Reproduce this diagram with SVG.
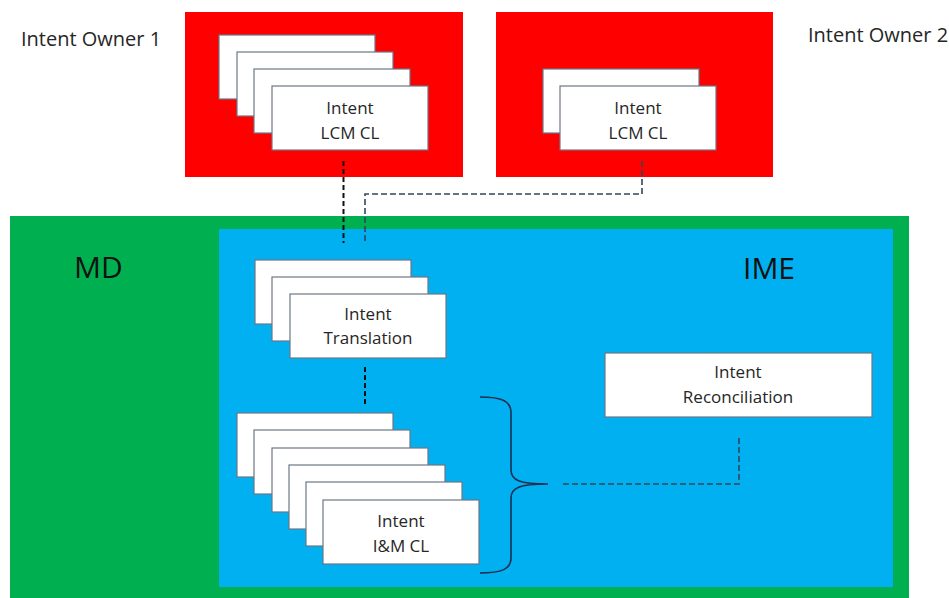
<svg xmlns="http://www.w3.org/2000/svg" width="949" height="598" viewBox="0 0 949 598">
<style>
.card{fill:#ffffff;stroke:#6b7785;stroke-width:1.2}
.t{font-family:"Open Sans","Liberation Sans",sans-serif;font-size:17px;fill:#262626;text-anchor:middle}
.lbl{font-family:"Open Sans","Liberation Sans",sans-serif;font-size:20px;fill:#262626}
.big{font-family:"Open Sans","Liberation Sans",sans-serif;font-size:30px;fill:#111111}
.dk{fill:none;stroke:#111111;stroke-width:2;stroke-dasharray:5 3}
.dg{fill:none;stroke:#34465a;stroke-width:1.6;stroke-dasharray:6 3}
</style>
<rect width="949" height="598" fill="#ffffff"/>
<g id="md">
<rect x="10" y="216" width="899" height="390" fill="#00b050"/>
<text class="big" x="74" y="278">MD</text>
</g>
<g id="ime">
<rect x="219" y="229" width="674" height="358" fill="#00b0f0"/>
<text class="big" x="743" y="279">IME</text>
</g>
<g id="owner1">
<text class="lbl" x="21" y="46">Intent Owner 1</text>
<rect x="185" y="12" width="278" height="165" fill="#ff0000"/>
<rect class="card" x="219" y="35" width="156" height="64"/>
<rect class="card" x="237" y="52" width="156" height="64"/>
<rect class="card" x="254" y="69" width="156" height="64"/>
<rect class="card" x="272" y="86" width="156" height="64"/>
<text class="t" x="350" y="114">Intent</text>
<text class="t" x="350" y="139">LCM CL</text>
</g>
<g id="owner2">
<text class="lbl" x="808" y="42">Intent Owner 2</text>
<rect x="496" y="12" width="277" height="165" fill="#ff0000"/>
<rect class="card" x="543" y="69" width="156" height="64"/>
<rect class="card" x="560" y="86" width="156" height="64"/>
<text class="t" x="638" y="114">Intent</text>
<text class="t" x="638" y="139">LCM CL</text>
</g>
<g id="translation">
<rect class="card" x="255" y="260" width="156" height="64"/>
<rect class="card" x="272" y="277" width="156" height="64"/>
<rect class="card" x="290" y="294" width="156" height="64"/>
<text class="t" x="368" y="320">Intent</text>
<text class="t" x="368" y="344">Translation</text>
</g>
<g id="imcl">
<rect class="card" x="237" y="413" width="156" height="64"/>
<rect class="card" x="254" y="430" width="156" height="64"/>
<rect class="card" x="272" y="448" width="156" height="64"/>
<rect class="card" x="289" y="465" width="156" height="64"/>
<rect class="card" x="306" y="482" width="156" height="64"/>
<rect class="card" x="323" y="500" width="156" height="64"/>
<text class="t" x="401" y="527">Intent</text>
<text class="t" x="401" y="552">I&amp;M CL</text>
</g>
<g id="reconciliation">
<rect class="card" x="605" y="353" width="267" height="64"/>
<text class="t" x="738" y="378">Intent</text>
<text class="t" x="738" y="403">Reconciliation</text>
</g>
<g id="connectors">
<path class="dk" d="M343.5,161 L343.5,243"/>
<path class="dg" d="M642,161 L642,194 L365,194 L365,243"/>
<path class="dk" d="M365,367 L365,404"/>
<path d="M480,397 C502,397 511,401 511,413 L511,470 C511,480 519,484 548,484 C519,484 511,488 511,498 L511,558 C511,569 502,573 480,573" fill="none" stroke="#1f2f4f" stroke-width="1.6"/>
<path class="dg" d="M563,484 L739,484 L739,436"/>
</g>
</svg>
